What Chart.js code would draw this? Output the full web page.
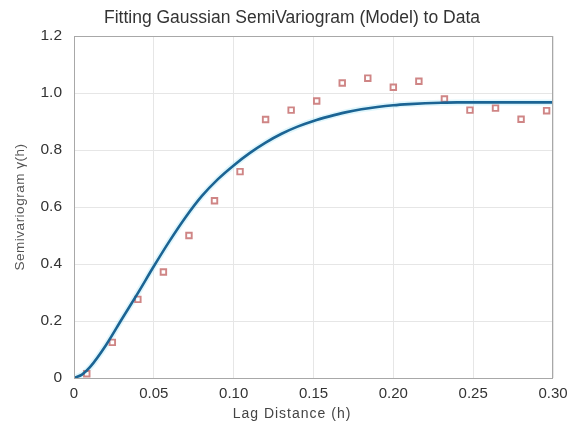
<!DOCTYPE html>
<html>
<head>
<meta charset="utf-8">
<script src="https://cdn.jsdelivr.net/npm/chart.js@4.4.1/dist/chart.umd.min.js"></script>
<style>
  html, body { margin: 0; padding: 0; background: #ffffff; }
  #wrap { width: 569px; height: 426px; position: relative; }
</style>
</head>
<body>
<div id="wrap"><canvas id="chart" width="569" height="426"></canvas></div>
<script>
// Experimental semivariogram: lag distance (h) and semivariance
const lagDistance = [0.008, 0.024, 0.040, 0.056, 0.072, 0.088, 0.104, 0.120, 0.136, 0.152,
                     0.168, 0.184, 0.200, 0.216, 0.232, 0.248, 0.264, 0.280, 0.296];
const semivariance = [0.015, 0.125, 0.276, 0.372, 0.500, 0.622, 0.724, 0.907, 0.940, 0.972,
                      1.035, 1.052, 1.020, 1.041, 0.979, 0.940, 0.947, 0.908, 0.938];

// Fitted Gaussian model, sampled along h
const modelLag = [0, 0.005, 0.01, 0.02, 0.03, 0.04, 0.05, 0.06, 0.07, 0.08, 0.09, 0.10,
                  0.11, 0.12, 0.13, 0.14, 0.15, 0.16, 0.17, 0.18, 0.19, 0.20,
                  0.21, 0.22, 0.23, 0.24, 0.25, 0.26, 0.27, 0.28, 0.29, 0.30];
const modelGamma = [0, 0.012, 0.038, 0.115, 0.207, 0.298, 0.392, 0.482, 0.565, 0.638, 0.697, 0.746,
                    0.789, 0.826, 0.857, 0.882, 0.902, 0.918, 0.932, 0.943, 0.951, 0.957,
                    0.961, 0.964, 0.966, 0.967, 0.967, 0.967, 0.967, 0.967, 0.967, 0.967];

// Axis tick labels
const xTickLabels = ['0', '0.05', '0.10', '0.15', '0.20', '0.25', '0.30'];
const yTickLabels = ['0', '0.2', '0.4', '0.6', '0.8', '1.0', '1.2'];

const titleText = 'Fitting Gaussian SemiVariogram (Model) to Data';
const xTitleText = 'Lag Distance (h)';
const yTitleText = 'Semivariogram \u03b3(h)';

const FONT = '"Liberation Sans", Arial, sans-serif';

const toPoints = (xs, ys) => xs.map((x, i) => ({ x: x, y: ys[i] }));

// Frame around the plot area plus the title and axis titles
const framePlugin = {
  id: 'frame',
  afterDraw(chart) {
    const { ctx, chartArea: a } = chart;
    ctx.save();
    ctx.strokeStyle = '#a8a8a8';
    ctx.lineWidth = 1;
    ctx.strokeRect(a.left + 0.5, a.top + 0.5, a.right - a.left - 1, a.bottom - a.top);

    ctx.fillStyle = '#333333';
    ctx.textAlign = 'center';
    ctx.textBaseline = 'middle';
    ctx.font = '17.5px ' + FONT;
    ctx.fillText(titleText, 292, 18);

    ctx.font = '14px ' + FONT;
    ctx.fillStyle = '#444444';
    ctx.letterSpacing = '1px';
    ctx.fillText(xTitleText, 292, 414);

    ctx.translate(20, (a.top + a.bottom) / 2);
    ctx.rotate(-Math.PI / 2);
    ctx.font = '13.5px ' + FONT;
    ctx.letterSpacing = '0.5px';
    ctx.fillStyle = '#555555';
    ctx.fillText(yTitleText, 0, 0);
    ctx.restore();
  }
};

new Chart(document.getElementById('chart'), {
  type: 'scatter',
  data: {
    datasets: [
      {
        label: 'Model',
        type: 'line',
        data: toPoints(modelLag, modelGamma),
        borderColor: '#1b6494',
        borderWidth: 2.6,
        pointRadius: 0,
        cubicInterpolationMode: 'monotone',
        fill: false,
        order: 1
      },
      {
        label: 'Model halo',
        type: 'line',
        data: toPoints(modelLag, modelGamma),
        borderColor: 'rgba(150, 225, 245, 0.3)',
        borderWidth: 6,
        pointRadius: 0,
        cubicInterpolationMode: 'monotone',
        fill: false,
        order: 3
      },
      {
        label: 'Data',
        data: toPoints(lagDistance, semivariance),
        pointStyle: 'rect',
        pointRadius: 3.9,
        borderColor: '#cf8585',
        borderWidth: 1.9,
        backgroundColor: 'rgba(255,255,255,0.6)',
        order: 2
      }
    ]
  },
  options: {
    responsive: false,
    animation: false,
    layout: { padding: { left: 0, right: 16, top: 36, bottom: 0 } },
    plugins: {
      legend: { display: false },
      title: { display: false },
      tooltip: { enabled: false }
    },
    scales: {
      x: {
        type: 'linear',
        min: 0,
        max: 0.3,
        afterFit(scale) { scale.height = 48; scale.paddingLeft = 0; scale.paddingRight = 0; },
        ticks: {
          stepSize: 0.05,
          padding: 7,
          color: '#333333',
          font: { family: FONT, size: 15 },
          maxRotation: 0,
          callback: (v, i) => xTickLabels[i]
        },
        grid: { color: '#e6e6e6', drawTicks: false },
        border: { display: false }
      },
      y: {
        type: 'linear',
        min: 0,
        max: 1.2,
        afterFit(scale) { scale.width = 74; scale.paddingTop = 0; scale.paddingBottom = 0; },
        ticks: {
          stepSize: 0.2,
          padding: 12,
          color: '#333333',
          font: { family: FONT, size: 15.5 },
          callback: (v, i) => yTickLabels[i]
        },
        grid: { color: '#e6e6e6', drawTicks: false },
        border: { display: false }
      }
    }
  },
  plugins: [framePlugin]
});
</script>
</body>
</html>
